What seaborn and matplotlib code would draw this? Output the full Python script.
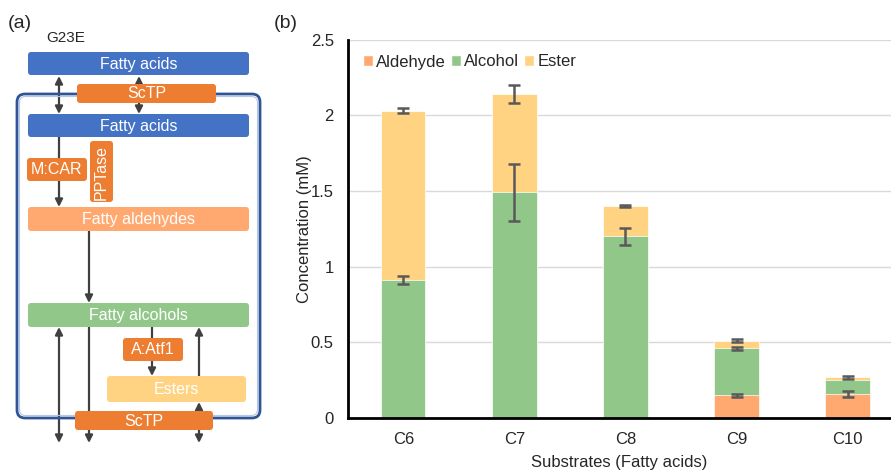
import numpy as np
import pandas as pd
import matplotlib
matplotlib.use("Agg")
import matplotlib.pyplot as plt
import seaborn as sns
from matplotlib.patches import FancyBboxPatch, Patch
from matplotlib.ticker import FuncFormatter

# data (mM)
substrates = ["C6", "C7", "C8", "C9", "C10"]
aldehyde = [0.0, 0.0, 0.0, 0.15, 0.16]
alcohol = [0.91, 1.49, 1.20, 0.31, 0.09]
ester = [1.12, 0.65, 0.20, 0.05, 0.02]
aldehyde_err = [0.0, 0.0, 0.0, 0.008, 0.02]
alcohol_err = [0.028, 0.187, 0.055, 0.012, 0.0]
ester_err = [0.015, 0.06, 0.006, 0.01, 0.01]

c_ald = "#FFA970"
c_alc = "#92C78A"
c_est = "#FFD382"
c_blue = "#4472C4"
c_orange = "#ED7D31"
c_arrow = "#404040"

sns.set_style("white")
plt.rcParams["font.family"] = ["Liberation Sans", "DejaVu Sans"]

df = pd.DataFrame({"substrate": substrates, "aldehyde": aldehyde,
                   "alcohol": alcohol, "ester": ester})
df["lvl1"] = df["aldehyde"]
df["lvl2"] = df["aldehyde"] + df["alcohol"]
df["lvl3"] = df["lvl2"] + df["ester"]

fig = plt.figure(figsize=(8.91, 4.70), dpi=100)

# ---------- panel (a): pathway sketch in pixel coords ----------
axa = fig.add_axes([0, 0, 1, 1])
axa.set_xlim(0, 891)
axa.set_ylim(470, 0)
axa.axis("off")


def box(x0, y0, x1, y1, color, text, rot=0):
    p = FancyBboxPatch((x0, y0), x1 - x0, y1 - y0,
                       boxstyle="round,pad=0,rounding_size=3",
                       fc=color, ec="none", zorder=3)
    axa.add_patch(p)
    axa.text((x0 + x1) / 2, (y0 + y1) / 2 + 0.5, text, color="white",
             fontsize=11.5, ha="center", va="center", rotation=rot, zorder=4)


def arrow(x, y0, y1, style="-|>"):
    axa.annotate("", xy=(x, y1), xytext=(x, y0),
                 arrowprops=dict(arrowstyle=style, color=c_arrow, lw=1.6,
                                 mutation_scale=11, shrinkA=0, shrinkB=0),
                 zorder=1)


# cell outline (double line)
axa.add_patch(FancyBboxPatch((17, 94), 243, 324,
                             boxstyle="round,pad=0,rounding_size=8",
                             fc="none", ec="#2F5597", lw=2.0, zorder=2))
axa.add_patch(FancyBboxPatch((19.5, 96.5), 238, 319,
                             boxstyle="round,pad=0,rounding_size=6",
                             fc="none", ec="#B4C7E7", lw=0.8, zorder=2))

arrow(59, 76, 114, "<|-|>")
arrow(139, 76, 114, "<|-|>")
arrow(59, 137, 207)
arrow(89, 231, 303)
arrow(59, 327, 443, "<|-|>")
arrow(89, 327, 443)
arrow(152, 327, 376)
arrow(199, 376, 327)
arrow(199, 402, 443, "<|-|>")

box(28, 52, 249, 75, c_blue, "Fatty acids")
box(77, 84, 216, 103, c_orange, "ScTP")
box(28, 114, 249, 137, c_blue, "Fatty acids")
box(27, 158, 87, 181, c_orange, "M:CAR")
box(90, 141, 113, 202, c_orange, "PPTase", rot=90)
box(28, 207, 249, 231, c_ald, "Fatty aldehydes")
box(28, 303, 249, 327, c_alc, "Fatty alcohols")
box(123, 338, 183, 361, c_orange, "A:Atf1")
box(107, 376, 246, 402, c_est, "Esters")
box(75, 411, 213, 430, c_orange, "ScTP")

axa.text(8, 24, "(a)", fontsize=14, ha="left", va="center")
axa.text(46, 38, "G23E", fontsize=11, ha="left", va="center")
axa.text(274, 24, "(b)", fontsize=14, ha="left", va="center")

# ---------- panel (b): stacked bars ----------
ax = fig.add_axes([347.7 / 891, 52 / 470, 1 - 347.7 / 891, (418 - 39.5) / 470])
for col, colour in [("lvl3", c_est), ("lvl2", c_alc), ("lvl1", c_ald)]:
    sns.barplot(data=df, x="substrate", y=col, color=colour, width=0.4,
                saturation=1, edgecolor="white", linewidth=0.5, ax=ax,
                zorder=2)

xs = np.arange(len(substrates))
for top, err in [(df["lvl1"], aldehyde_err), (df["lvl2"], alcohol_err),
                 (df["lvl3"], ester_err)]:
    mask = np.array(err) > 0
    ax.errorbar(xs[mask], np.array(top)[mask], yerr=np.array(err)[mask],
                fmt="none", ecolor="#595959", elinewidth=1.8, capsize=4,
                capthick=1.8, zorder=3)

ax.set_xlim(-0.5, 4.39)
ax.set_ylim(0, 2.5)
ax.set_yticks([0, 0.5, 1, 1.5, 2, 2.5])
ax.yaxis.set_major_formatter(FuncFormatter(lambda v, p: "%g" % v))
ax.grid(axis="y", color="#D9D9D9", lw=1, zorder=0)
ax.set_axisbelow(True)
ax.set_xlabel("Substrates (Fatty acids)", fontsize=12, labelpad=6)
ax.set_ylabel("Concentration (mM)", fontsize=12, labelpad=-1)
ax.tick_params(axis="y", direction="in", length=4, width=2, labelsize=12, pad=10)
ax.tick_params(axis="x", length=0, labelsize=12, pad=10)
for s in ["top", "right"]:
    ax.spines[s].set_visible(False)
for s in ["left", "bottom"]:
    ax.spines[s].set_color("black")
    ax.spines[s].set_linewidth(2)

handles = [Patch(fc=c_ald, label="Aldehyde"), Patch(fc=c_alc, label="Alcohol"),
           Patch(fc=c_est, label="Ester")]
ax.legend(handles=handles, ncol=3, frameon=False, loc="upper left",
          bbox_to_anchor=(0.0, 1.0), fontsize=12, handlelength=0.6,
          handleheight=0.6, handletextpad=0.2, columnspacing=0.3,
          borderaxespad=0.5)

fig.savefig("out.png", dpi=100)
